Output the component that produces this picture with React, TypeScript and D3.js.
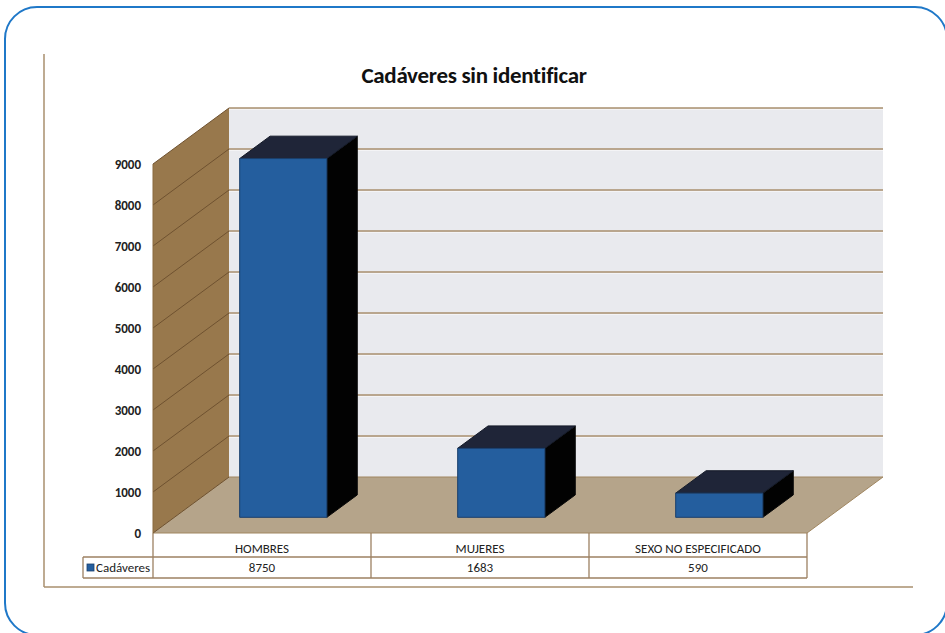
import React from "react";
import * as d3 from "d3";

const title = "Cadáveres sin identificar";
const seriesName = "Cadáveres";
const categories = ["HOMBRES", "MUJERES", "SEXO NO ESPECIFICADO"];
const values = [8750, 1683, 590];
const yTicks = [0, 1000, 2000, 3000, 4000, 5000, 6000, 7000, 8000, 9000];

const FONT = "Carlito, 'Liberation Sans Narrow', 'Open Sans', sans-serif";

export default function App() {
  const W = 945, H = 633;
  // 3D geometry
  const DX = 76, DY = -56;
  const x = d3.scaleBand<string>().domain(categories).range([153, 807]).paddingInner(0).paddingOuter(0);
  const y = d3.scaleLinear().domain([0, 9000]).range([533, 164]);
  const floorY = y(0);
  const wallTopFront = y(9000);
  const left = x.range()[0];
  const right = x.range()[1];
  const pt = (px: number, py: number, d: number) => [px + d * DX, py + d * DY];
  const poly = (pts: number[][]) => pts.map(p => p.join(",")).join(" ");

  const d0 = 0.28, d1 = 0.68;
  const barW = x.bandwidth() * 0.4;

  const grid = "#a88f6e";
  const sideGrid = "#6f5230";

  return (
    <svg width={W} height={H} style={{ position: "absolute", left: 0, top: 0 }}>
      <rect x={0} y={0} width={W} height={H} fill="#ffffff" />
      <rect x={5} y={7} width={942} height={628} rx={32} ry={32} fill="none" stroke="#1f78c8" strokeWidth={2} />
      {/* chart frame */}
      <line x1={44} y1={54} x2={44} y2={587} stroke="#a88f6e" strokeWidth={1.5} />
      <line x1={44} y1={587} x2={913} y2={587} stroke="#a88f6e" strokeWidth={1.5} />

      <text x={474} y={83} textAnchor="middle" fontFamily={FONT} fontWeight="bold" fontSize={23} letterSpacing={-0.3} fill="#111">{title}</text>

      {/* back wall */}
      <polygon points={poly([pt(left, wallTopFront, 1), pt(right, wallTopFront, 1), pt(right, floorY, 1), pt(left, floorY, 1)])} fill="#e9eaee" />
      {/* side wall */}
      <polygon points={poly([[left, wallTopFront], pt(left, wallTopFront, 1), pt(left, floorY, 1), [left, floorY]])} fill="#98784c" />
      {/* floor */}
      <polygon points={poly([[left, floorY], pt(left, floorY, 1), pt(right, floorY, 1), [right, floorY]])} fill="#b5a48a" stroke="#a08660" strokeWidth={1} />

      {/* gridlines */}
      {yTicks.map(t => {
        const [bx, by] = pt(left, y(t), 1);
        const [ex] = pt(right, y(t), 1);
        return (
          <g key={t}>
            {t > 0 && <line x1={bx} y1={by} x2={ex} y2={by} stroke={grid} strokeWidth={1.6} />}
            {t > 0 && <line x1={bx} y1={by + 1.5} x2={ex} y2={by + 1.5} stroke="#f4f4f6" strokeWidth={1} />}
            <line x1={left} y1={y(t)} x2={bx} y2={by} stroke={sideGrid} strokeWidth={1} />
          </g>
        );
      })}
      <line x1={left} y1={wallTopFront} x2={left} y2={floorY} stroke="#8a6a3e" strokeWidth={1} />

      {/* y labels */}
      {yTicks.map(t => (
        <text key={t} x={141} y={y(t) + 4.5} textAnchor="end" fontFamily={FONT} fontWeight="bold" fontSize={13} fill="#222">{t}</text>
      ))}

      {/* bars */}
      {categories.map((c, i) => {
        const v = values[i];
        const cx = (x(c) as number) + x.bandwidth() / 2;
        const fx0 = cx - barW / 2, fx1 = cx + barW / 2;
        const yb = y(0), yt = y(v);
        const A = pt(fx0, yt, d0), B = pt(fx1, yt, d0), C = pt(fx1, yb, d0), D = pt(fx0, yb, d0);
        const A2 = pt(fx0, yt, d1), B2 = pt(fx1, yt, d1), C2 = pt(fx1, yb, d1);
        return (
          <g key={c}>
            <polygon points={poly([B, B2, C2, C])} fill="#020202" stroke="#0a0a0a" strokeWidth={1} />
            <polygon points={poly([A, A2, B2, B])} fill="#1f2538" stroke="#141a28" strokeWidth={1} />
            <polygon points={poly([A, B, C, D])} fill="#245e9e" stroke="#1a3f6c" strokeWidth={1} />
          </g>
        );
      })}

      {/* data table */}
      <g stroke="#9c8062" strokeWidth={1.3} fill="none">
        <line x1={left} y1={floorY} x2={left} y2={578} />
        <line x1={right} y1={floorY} x2={right} y2={578} />
        <line x1={83} y1={557} x2={right} y2={557} />
        <line x1={83} y1={578} x2={right} y2={578} />
        <line x1={83} y1={557} x2={83} y2={578} />
        {categories.slice(1).map(c => (
          <line key={c} x1={x(c) as number} y1={floorY} x2={x(c) as number} y2={578} />
        ))}
      </g>
      {categories.map((c, i) => {
        const cx = (x(c) as number) + x.bandwidth() / 2;
        return (
          <g key={c}>
            <text x={cx} y={553} textAnchor="middle" fontFamily={FONT} fontSize={13} fill="#222">{c}</text>
            <text x={cx} y={572} textAnchor="middle" fontFamily={FONT} fontSize={13} fill="#222">{values[i]}</text>
          </g>
        );
      })}
      <rect x={87} y={564} width={7} height={7} fill="#245e9e" stroke="#1a3f6c" strokeWidth={0.8} />
      <text x={96} y={572} fontFamily={FONT} fontSize={13} fill="#222">{seriesName}</text>
    </svg>
  );
}
